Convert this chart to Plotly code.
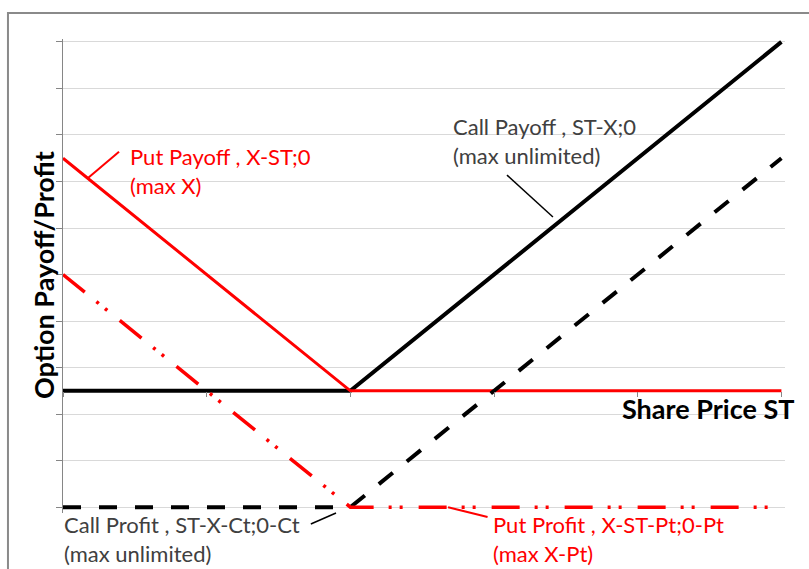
import plotly.graph_objects as go

# Share price ST (x) and option values (y)
share_price = [0, 4, 10]
call_payoff = [0, 0, 6]
put_payoff = [4, 0, 0]
call_profit = [-2, -2, 4]
put_profit = [2, -2, -2]

RED = "#FF0000"
GRAY_TXT = "#404040"
FONT = "Lato"

YMIN, YMAX = -2.1, 6.05
XMIN, XMAX = 0, 10.05
PX_PER_Y = 58.125
PX_PER_X = 71.8


def px_(x):
    return (x - XMIN) / (XMAX - XMIN)


def py_(y):
    return (y - YMIN) / (YMAX - YMIN)


fig = go.Figure()
fig.add_trace(go.Scatter(x=share_price, y=call_payoff, mode="lines",
                         line=dict(color="black", width=4), name="Call Payoff"))
fig.add_trace(go.Scatter(x=share_price, y=put_payoff, mode="lines",
                         line=dict(color=RED, width=3), name="Put Payoff"))
fig.add_trace(go.Scatter(x=share_price, y=call_profit, mode="lines",
                         line=dict(color="black", width=4, dash="18px,18px"), name="Call Profit"))
fig.add_trace(go.Scatter(x=share_price, y=put_profit, mode="lines",
                         line=dict(color=RED, width=3.5, dash="28px,15px,3px,8px,3px,16px"),
                         name="Put Profit"))

# leader lines
leaders = [
    ((0.348, 3.66), (0.78, 4.11), RED, 2),
    ((6.18, 3.71), (6.82, 2.99), "black", 1.5),
    ((3.45, -2.29), (3.80, -2.10), "black", 1.5),
    ((5.36, -2.0), (5.91, -2.17), RED, 2),
]
for (x0, y0), (x1, y1), c, w in leaders:
    fig.add_shape(type="line", x0=px_(x0), y0=py_(y0), x1=px_(x1), y1=py_(y1),
                  xref="paper", yref="paper", line=dict(color=c, width=w))

plot_l = 63
plot_w = (XMAX - XMIN) * PX_PER_X
plot_t = 42 - (YMAX - 6) * PX_PER_Y
plot_h = (YMAX - YMIN) * PX_PER_Y
W, H = 809, 569

# outer border
fig.add_shape(type="rect", xref="paper", yref="paper",
              x0=(8 - plot_l) / plot_w, x1=(W + 20 - plot_l) / plot_w,
              y0=-0.3, y1=(plot_t + plot_h - 13) / plot_h,
              line=dict(color="#8a8a8a", width=2), layer="below")

labels = [
    (0.905, 3.78, "Put Payoff , X-ST;0<br>(max X)", RED),
    (5.40, 4.30, "Call Payoff , ST-X;0<br>(max unlimited)", GRAY_TXT),
    (-0.02, -2.55, "Call Profit , ST-X-Ct;0-Ct<br>(max unlimited)", GRAY_TXT),
    (5.96, -2.55, "Put Profit , X-ST-Pt;0-Pt<br>(max X-Pt)", RED),
]
for x, y, t, c in labels:
    fig.add_annotation(x=px_(x), y=py_(y), xref="paper", yref="paper", text=t, showarrow=False,
                       xanchor="left", yanchor="middle", align="left",
                       font=dict(family=FONT, size=22, color=c))

fig.add_annotation(x=(43 - plot_l) / plot_w, y=(plot_t + plot_h - 275) / plot_h,
                   xref="paper", yref="paper", text="<b>Option Payoff/Profit</b>",
                   textangle=-90, showarrow=False, xanchor="center", yanchor="middle",
                   font=dict(family=FONT, size=27, color="black"))
fig.add_annotation(x=(796 - plot_l) / plot_w, y=(plot_t + plot_h - 408) / plot_h,
                   xref="paper", yref="paper", text="<b>Share Price ST</b>",
                   showarrow=False, xanchor="right", yanchor="middle",
                   font=dict(family=FONT, size=27, color="black"))

fig.update_layout(
    width=W, height=H,
    margin=dict(l=plot_l, r=W - plot_l - plot_w, t=plot_t, b=H - plot_t - plot_h, pad=0),
    paper_bgcolor="white", plot_bgcolor="white",
    showlegend=False,
    xaxis=dict(range=[XMIN, XMAX], tick0=0, dtick=2, showgrid=False, zeroline=False,
               showline=False,
               ticks="outside", ticklen=5, tickcolor="#868686", showticklabels=False,
               anchor="free", position=py_(0)),
    yaxis=dict(range=[YMIN, YMAX], tick0=-2, dtick=0.8, showgrid=True, gridcolor="#d9d9d9",
               gridwidth=1, zeroline=False, showline=True, linecolor="#868686",
               ticks="outside", ticklen=6, tickcolor="#868686", showticklabels=False),
)

fig.write_html("out.html", config={"displayModeBar": False},
               post_script="document.body.style.margin='0px';")
